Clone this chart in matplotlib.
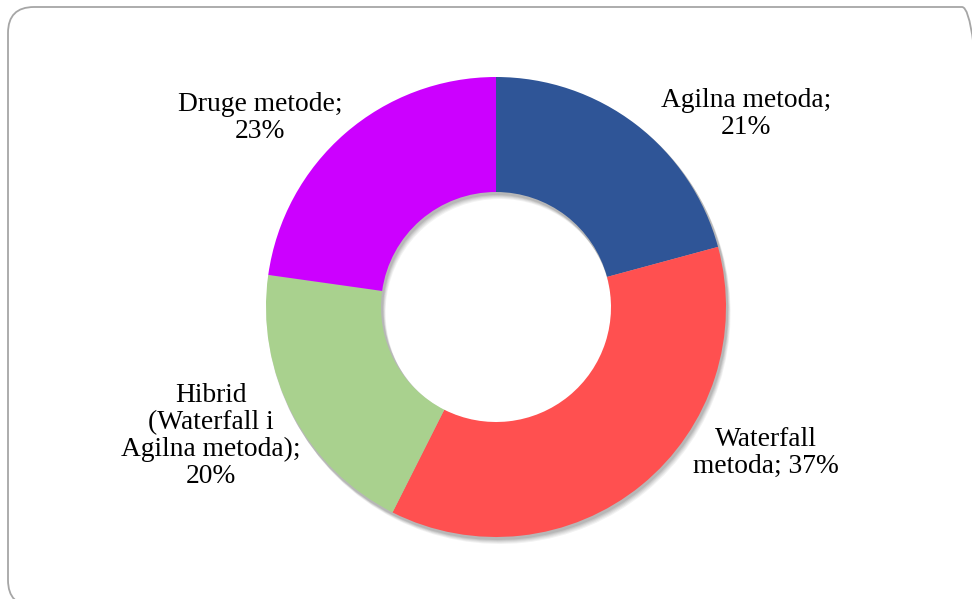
import matplotlib
matplotlib.use("Agg")
import matplotlib.pyplot as plt
from matplotlib.patches import FancyBboxPatch

categories = ["Agilna metoda", "Waterfall\nmetoda", "Hibrid\n(Waterfall i\nAgilna metoda)", "Druge metode"]
label_text = ["Agilna metoda;\n21%", "Waterfall\nmetoda; 37%",
              "Hibrid\n(Waterfall i\nAgilna metoda);\n20%", "Druge metode;\n23%"]
values = [21, 37, 20, 23]
colors = ["#2F5597", "#FF5050", "#A9D18E", "#CC00FF"]

W, H = 972, 599
fig = plt.figure(figsize=(W / 100, H / 100), dpi=100)
ax = fig.add_axes([0, 0, 1, 1])

cx, cy, r = 496, H - 307, 230
ring = dict(width=r * 0.5, edgecolor="none")

# soft shadow under the donut
for k, a in enumerate([0.05, 0.05, 0.06, 0.07, 0.08]):
    off = 6 - k
    ax.pie(values, radius=r + 1, center=(cx + off * 0.6, cy - off),
           startangle=90, counterclock=False, colors=["black"] * 4,
           wedgeprops=dict(width=r * 0.5 + 2, edgecolor="none", alpha=a))

ax.pie(values, radius=r, center=(cx, cy), startangle=90, counterclock=False,
       colors=colors, wedgeprops=ring)

# data labels (placed like the original)
label_pos = [(746, 114), (766, 453), (211, 436), (260, 118)]
for txt, (x, y) in zip(label_text, label_pos):
    ax.text(x, H - y, txt, ha="center", va="center", fontsize=19.8,
            family="Liberation Serif", linespacing=1.1)

# rounded frame, right and bottom edges run off the picture
frame = FancyBboxPatch((8, -7), 980, H - 7 + 7, boxstyle="round,pad=0,rounding_size=26",
                       facecolor="none", edgecolor="#A6A6A6", linewidth=1.3)
ax.add_patch(frame)

ax.set_xlim(0, W)
ax.set_ylim(0, H)
ax.set_aspect("auto")
ax.axis("off")
fig.savefig("out.png", dpi=100)
